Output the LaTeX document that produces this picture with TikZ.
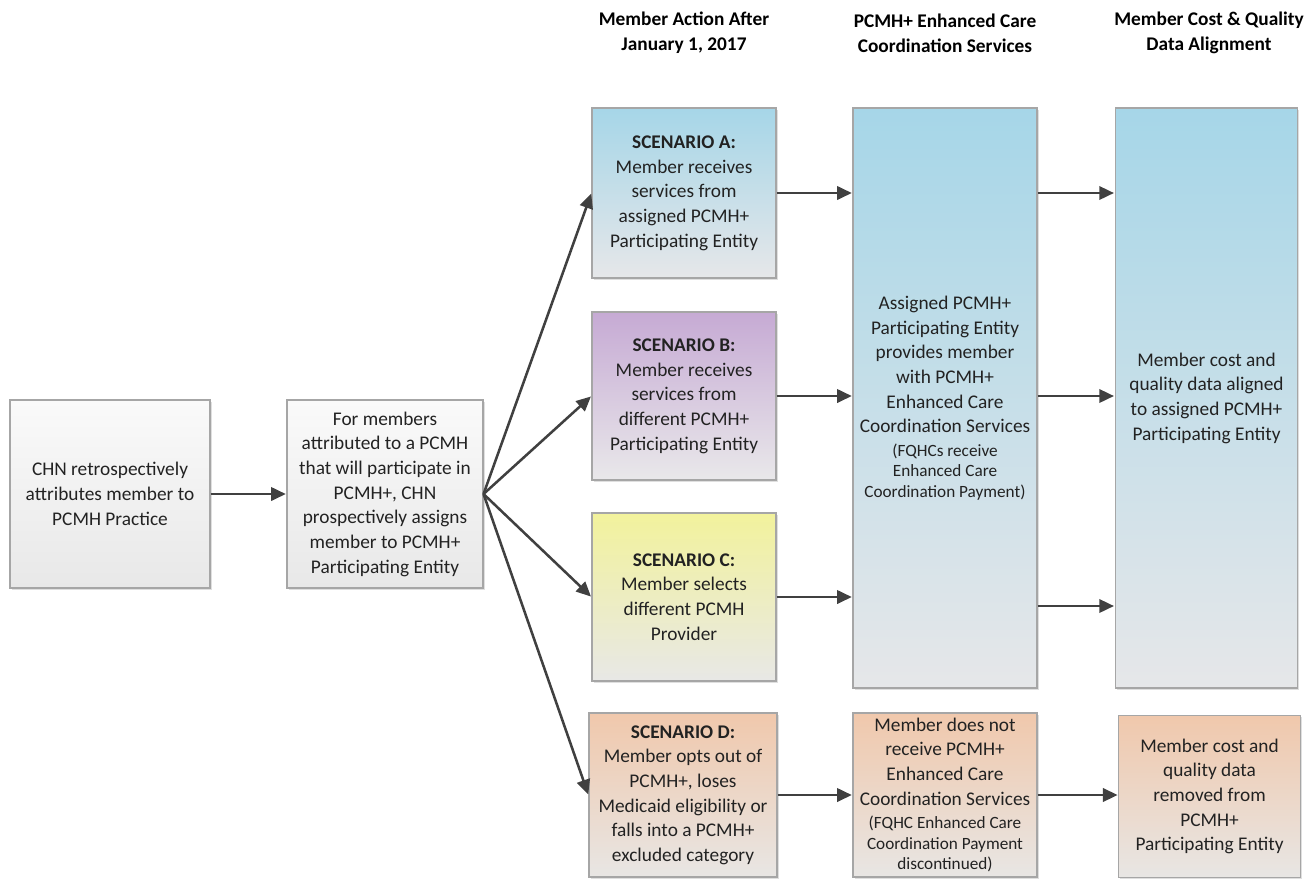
\documentclass[tikz,border=0pt]{standalone}
\usepackage{fontspec}
\setmainfont{Carlito}
\usetikzlibrary{arrows.meta,shadows,calc}
\definecolor{bordc}{HTML}{A6A6A6}
\definecolor{arrc}{HTML}{404040}
\definecolor{txtc}{HTML}{222222}
\definecolor{blueT}{HTML}{A6D6E8}
\definecolor{blueB}{HTML}{E6E7E9}
\definecolor{purT}{HTML}{C6AAD4}
\definecolor{purB}{HTML}{E9E8EA}
\definecolor{yelT}{HTML}{F2F29C}
\definecolor{yelB}{HTML}{E8E8E6}
\definecolor{peaT}{HTML}{F0C8AC}
\definecolor{peaB}{HTML}{E8E6E4}
\definecolor{grT}{HTML}{FAFAFA}
\definecolor{grB}{HTML}{E8E8E8}
\newcommand{\smalltxt}{\fontsize{12.9}{15.75}\selectfont}
\tikzset{
  box/.style={draw=bordc, line width=0.8pt, align=center, inner sep=2pt,
    text=txtc, font=\fontsize{14.5}{18.5}\selectfont,
    drop shadow={shadow xshift=1.2pt, shadow yshift=-1.2pt, opacity=0.25, fill=black!50}},
  graybox/.style={box, top color=grT, bottom color=grB},
  bluebox/.style={box, top color=blueT, bottom color=blueB},
  purbox/.style={box, top color=purT, bottom color=purB},
  yelbox/.style={box, top color=yelT, bottom color=yelB},
  peabox/.style={box, top color=peaT, bottom color=peaB},
  hdr/.style={align=center, text=black, font=\bfseries\fontsize{14.5}{19}\selectfont},
  arr/.style={draw=arrc, line width=1.9pt, -{Triangle[length=11pt,width=10pt]}, shorten >=0.5pt},
}
\begin{document}
\begin{tikzpicture}[x=0.75pt, y=-0.75pt]
\useasboundingbox (0,0) rectangle (1316,879);
% headers
\node[hdr] (h1) at (684,33) {Member Action After\\January 1, 2017};
\node[hdr] (h2) at (945,33) {PCMH+ Enhanced Care\\Coordination Services};
\node[hdr] (h3) at (1209,33) {Member Cost \& Quality\\Data Alignment};
% left boxes
\node[graybox, minimum width=150pt, minimum height=141pt] (b1) at (110,494)
  {CHN retrospectively\\attributes member to\\PCMH Practice};
\node[graybox, minimum width=147pt, minimum height=141pt] (b2) at (385,494)
  {For members\\attributed to a PCMH\\that will participate in\\PCMH+, CHN\\prospectively assigns\\member to PCMH+\\Participating Entity};
% scenarios
\node[bluebox, minimum width=138pt, minimum height=127.5pt] (sA) at (684,193)
  {\textbf{SCENARIO A:}\\Member receives\\services from\\assigned PCMH+\\Participating Entity};
\node[purbox, minimum width=138pt, minimum height=126pt] (sB) at (684,396)
  {\textbf{SCENARIO B:}\\Member receives\\services from\\different PCMH+\\Participating Entity};
\node[yelbox, minimum width=138pt, minimum height=126pt] (sC) at (684,597)
  {\textbf{SCENARIO C:}\\Member selects\\different PCMH\\Provider};
\node[peabox, minimum width=141pt, minimum height=123pt] (sD) at (683,795)
  {\textbf{SCENARIO D:}\\Member opts out of\\PCMH+, loses\\Medicaid eligibility or\\falls into a PCMH+\\excluded category};
% big boxes
\node[bluebox, minimum width=138pt, minimum height=435pt] (mid) at (945,398)
  {Assigned PCMH+\\Participating Entity\\provides member\\with PCMH+\\Enhanced Care\\Coordination Services\\[-1pt]{\smalltxt (FQHCs receive}\\[-3pt]{\smalltxt Enhanced Care}\\[-3pt]{\smalltxt Coordination Payment)}};
\node[bluebox, minimum width=137pt, minimum height=435pt] (rt) at (1206.5,398)
  {Member cost and\\quality data aligned\\to assigned PCMH+\\Participating Entity};
% D row
\node[peabox, minimum width=138pt, minimum height=123pt] (dmid) at (945,795)
  {Member does not\\receive PCMH+\\Enhanced Care\\Coordination Services\\[-1pt]{\smalltxt (FQHC Enhanced Care}\\[-3pt]{\smalltxt Coordination Payment}\\[-3pt]{\smalltxt discontinued)}};
\node[peabox, minimum width=136pt, minimum height=121pt] (drt) at (1209.5,796.5)
  {Member cost and\\quality data\\removed from\\PCMH+\\Participating Entity};
% connectors
\draw[arr] (b1.east) -- (b2.west);
\draw[arr] (b2.east) -- (sA.west);
\draw[arr] (b2.east) -- (sB.west);
\draw[arr] (b2.east) -- (sC.west);
\draw[arr] (b2.east) -- (sD.west);
\draw[arr] (sA.east) -- (mid.west |- sA.east);
\draw[arr] (sB.east) -- (mid.west |- sB.east);
\draw[arr] (sC.east) -- (mid.west |- sC.east);
\draw[arr] (mid.east |- sA.east) -- (rt.west |- sA.east);
\draw[arr] (mid.east |- sB.east) -- (rt.west |- sB.east);
\draw[arr] ([yshift=-6.75pt]mid.east |- sC.east) -- ([yshift=-6.75pt]rt.west |- sC.east);
\draw[arr] (sD.east) -- (dmid.west |- sD.east);
\draw[arr] (dmid.east |- sD.east) -- (drt.west |- sD.east);
\end{tikzpicture}
\end{document}
